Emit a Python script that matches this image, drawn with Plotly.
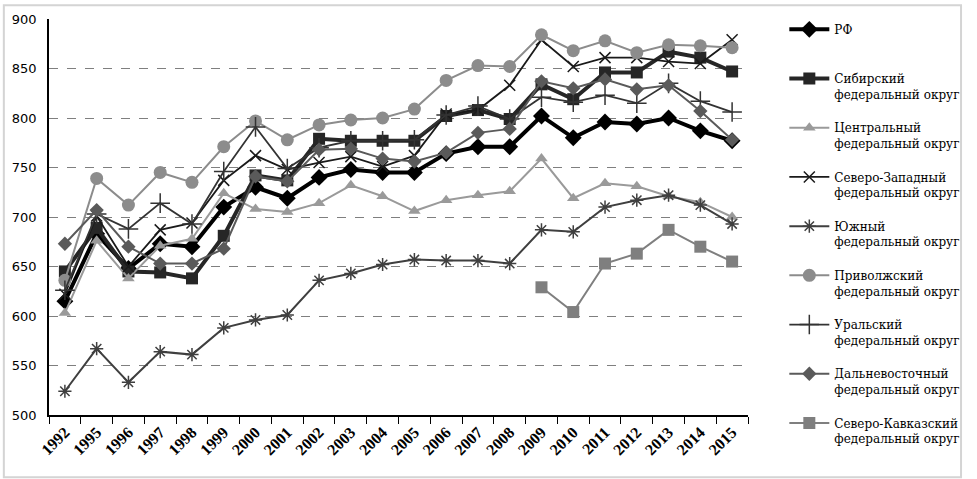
import plotly.graph_objects as go

years = ["1992", "1995", "1996", "1997", "1998", "1999", "2000", "2001", "2002", "2003", "2004",
         "2005", "2006", "2007", "2008", "2009", "2010", "2011", "2012", "2013", "2014", "2015"]

rf = [615, 683, 648, 673, 670, 710, 730, 719, 740, 748, 745, 745, 764, 771, 771, 802, 780, 796, 794, 800, 787, 777]
sibir = [645, 689, 645, 644, 638, 681, 742, 737, 779, 777, 777, 777, 802, 808, 799, 834, 819, 846, 846, 867, 861, 847]
centr = [603, 676, 638, 671, 678, 724, 708, 705, 714, 732, 721, 706, 717, 722, 726, 759, 719, 734, 731, 721, 715, 700]
szap = [622, 701, 650, 687, 694, 737, 762, 748, 755, 761, 751, 762, 804, 808, 833, 879, 852, 861, 861, 857, 855, 879]
yuzh = [524, 567, 533, 564, 561, 588, 596, 601, 636, 643, 652, 657, 656, 656, 653, 687, 685, 710, 717, 722, 712, 693]
privol = [636, 739, 712, 745, 735, 771, 797, 778, 793, 798, 800, 809, 838, 853, 852, 884, 868, 878, 866, 874, 873, 871]
ural = [626, 703, 688, 714, 693, 746, 791, 749, 770, 777, 777, 778, 803, 812, 799, 821, 816, 823, 815, 835, 817, 806]
dalv = [673, 707, 670, 653, 653, 668, 741, 736, 768, 769, 759, 756, 765, 785, 789, 837, 830, 839, 829, 833, 807, 778]
skav = [None] * 15 + [629, 604, 653, 663, 687, 670, 655]

names = [
    "РФ<br>\u00a0",
    "Сибирский<br>федеральный округ",
    "Центральный<br>федеральный округ",
    "Северо-Западный<br>федеральный округ",
    "Южный<br>федеральный округ",
    "Приволжский<br>федеральный округ",
    "Уральский<br>федеральный округ",
    "Дальневосточный<br>федеральный округ",
    "Северо-Кавказский<br>федеральный округ",
]

series = [rf, sibir, centr, szap, yuzh, privol, ural, dalv, skav]
styles = [
    dict(color="#000000", width=4, symbol="diamond", size=13, mline=0),
    dict(color="#262626", width=4, symbol="square", size=12, mline=0),
    dict(color="#9a9a9a", width=2, symbol="triangle-up", size=11, mline=0),
    dict(color="#1a1a1a", width=1.8, symbol="x-thin-open", size=11, mline=1.5),
    dict(color="#3f3f3f", width=2, symbol="asterisk-open", size=11, mline=1.5),
    dict(color="#8c8c8c", width=2, symbol="circle", size=13, mline=0),
    dict(color="#333333", width=1.8, symbol="cross-thin-open", size=14, mline=1.5),
    dict(color="#5a5a5a", width=2, symbol="diamond", size=11, mline=0),
    dict(color="#7f7f7f", width=2, symbol="square", size=12, mline=0),
]

fig = go.Figure()
for i, (nm, vals, st) in enumerate(zip(names, series, styles)):
    fig.add_trace(go.Scatter(
        x=years, y=vals, name=nm, mode="lines+markers", legendgroup=str(i),
        line=dict(color=st["color"], width=st["width"]),
        marker=dict(symbol=st["symbol"], size=st["size"], color=st["color"],
                    line=dict(color=st["color"], width=st["mline"])),
        connectgaps=False,
    ))

W, H = 977, 479
ml, mr, mt, mb = 47, 218, 15, 64
pw, ph = W - ml - mr, H - mt - mb

def px_x(p):
    return (p - ml) / pw

def px_y(p):
    return (H - mb - p) / ph

serif = "DejaVu Serif"

fig.update_layout(
    width=W, height=H,
    margin=dict(l=ml, r=mr, t=mt, b=mb),
    paper_bgcolor="white", plot_bgcolor="white",
    showlegend=True,
    legend=dict(
        x=px_x(796), y=px_y(11), xanchor="left", yanchor="top",
        font=dict(family=serif, size=12, color="#000000"),
        valign="top", itemwidth=40, tracegroupgap=15,
        bgcolor="rgba(0,0,0,0)", maxheight=470,
    ),
    xaxis=dict(
        type="category", categoryorder="array", categoryarray=years,
        tickson="boundaries", ticks="outside", ticklen=7, tickcolor="#000000", tickwidth=1.3,
        showline=True, linecolor="#000000", linewidth=1.5,
        showgrid=False, tickangle=-45,
        tickfont=dict(family="Liberation Serif", size=16, color="#000000", weight="bold"),
        range=[-0.5, len(years) - 0.5],
    ),
    yaxis=dict(
        range=[500, 900], dtick=50, tick0=500,
        showline=True, linecolor="#000000", linewidth=1.5,
        showgrid=True, gridcolor="#7f7f7f", griddash="dash", gridwidth=1,
        ticks="", ticklabelstandoff=8,
        tickfont=dict(family="DejaVu Sans", size=13, color="#000000"),
        zeroline=False,
    ),
    shapes=[dict(
        type="rect", xref="paper", yref="paper",
        x0=px_x(1), x1=px_x(W - 1), y0=px_y(H - 1), y1=px_y(1),
        line=dict(color="#d4d4d4", width=2), fillcolor="rgba(0,0,0,0)", layer="below",
    )],
)

fig.write_html("out.html")
